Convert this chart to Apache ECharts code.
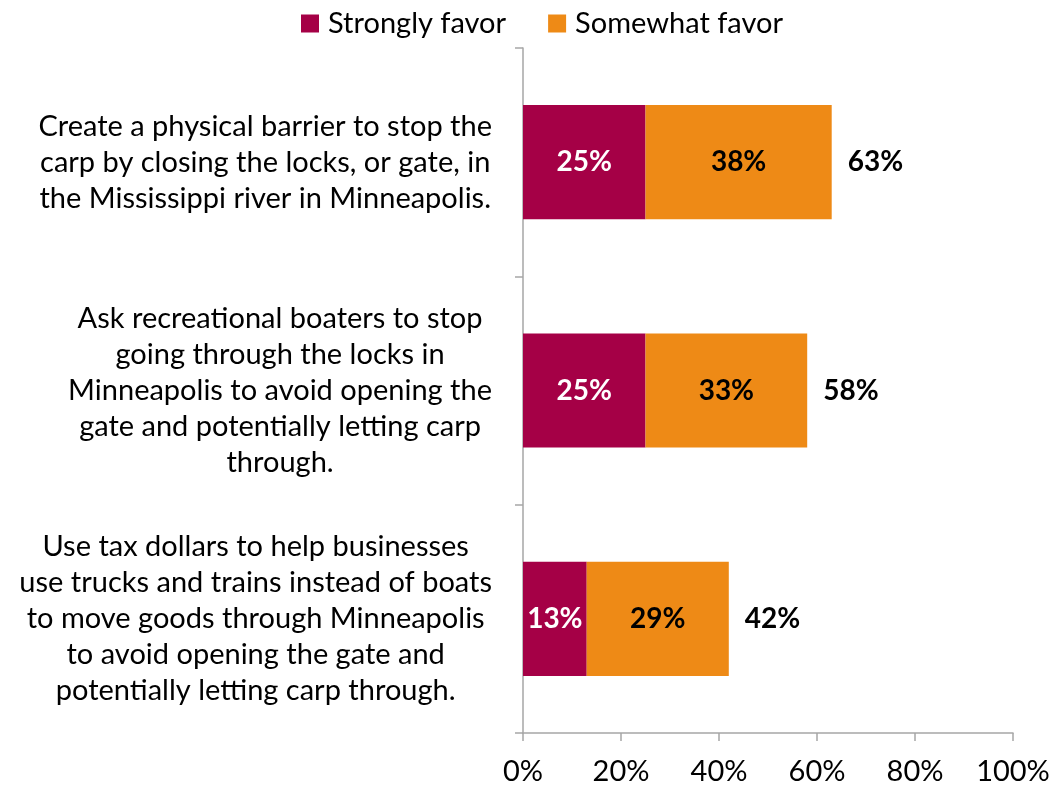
<!DOCTYPE html>
<html>
<head>
<meta charset="utf-8">
<script src="https://cdn.jsdelivr.net/npm/echarts@6/dist/echarts.min.js"></script>
<style>html,body{margin:0;padding:0;background:#fff;}#c{width:1056px;height:789px;}</style>
</head>
<body>
<div id="c"></div>
<script>
var categories = [
  "Create a physical barrier to stop the\ncarp by closing the locks, or gate, in\nthe Mississippi river in Minneapolis.",
  "Ask recreational boaters to stop\ngoing through the locks in\nMinneapolis to avoid opening the\ngate and potentially letting carp\nthrough.",
  "Use tax dollars to help businesses\nuse trucks and trains instead of boats\nto move goods through Minneapolis\nto avoid opening the gate and\npotentially letting carp through."
];
var stronglyFavor = [25, 25, 13];
var somewhatFavor = [38, 33, 29];
var totalFavor = [63, 58, 42];

var FONT = 'Lato';

var chart = echarts.init(document.getElementById('c'));
chart.setOption({
  animation: false,
  textStyle: {fontFamily: FONT},
  legend: {
    top: 4, left: 296,
    itemWidth: 18, itemHeight: 18, itemGap: 42,
    icon: 'rect',
    textStyle: {fontFamily: FONT, fontSize: 29, color: '#000', padding: [0, 0, 0, 4]},
    data: ['Strongly favor', 'Somewhat favor']
  },
  grid: {left: 523, right: 43, top: 48, bottom: 56, containLabel: false},
  xAxis: {
    type: 'value', min: 0, max: 100, interval: 20,
    axisLine: {show: true, lineStyle: {color: '#A6A6A6', width: 1.5}},
    axisTick: {show: true, length: 8, lineStyle: {color: '#A6A6A6', width: 1.5}},
    splitLine: {show: false},
    axisLabel: {fontFamily: FONT, fontSize: 29, color: '#000', margin: 24,
      formatter: function (v) { return v + '%'; }}
  },
  yAxis: {
    type: 'category', inverse: true, data: categories,
    axisLine: {show: true, lineStyle: {color: '#A6A6A6', width: 1.5}},
    axisTick: {show: true, length: 8, lineStyle: {color: '#A6A6A6', width: 1.5}},
    axisLabel: {
      margin: 31,
      formatter: function (v) {
        return v.split('\n').map(function (l) { return '{t|' + l + '}'; }).join('\n');
      },
      rich: {
        t: {align: 'center', fontFamily: FONT, fontSize: 29, lineHeight: 36, color: '#000'}
      }
    }
  },
  series: [
    {
      name: 'Strongly favor', type: 'bar', stack: 'f', barWidth: '50%',
      data: stronglyFavor,
      itemStyle: {color: '#A50046'},
      label: {show: true, position: 'inside', color: '#fff', fontWeight: 'bold', fontSize: 28, fontFamily: FONT,
        formatter: '{c}%'}
    },
    {
      name: 'Somewhat favor', type: 'bar', stack: 'f', barWidth: '50%',
      data: somewhatFavor,
      itemStyle: {color: '#EE8A16'},
      label: {show: true, position: 'inside', color: '#000', fontWeight: 'bold', fontSize: 28, fontFamily: FONT,
        formatter: '{c}%'}
    },
    {
      name: 'Total', type: 'bar', barWidth: '50%', barGap: '-100%',
      data: totalFavor, silent: true, z: 0,
      itemStyle: {color: 'rgba(0,0,0,0)'},
      label: {show: true, position: 'right', distance: 16, color: '#000', fontWeight: 'bold', fontSize: 28, fontFamily: FONT,
        formatter: '{c}%'}
    }
  ]
});
</script>
</body>
</html>
